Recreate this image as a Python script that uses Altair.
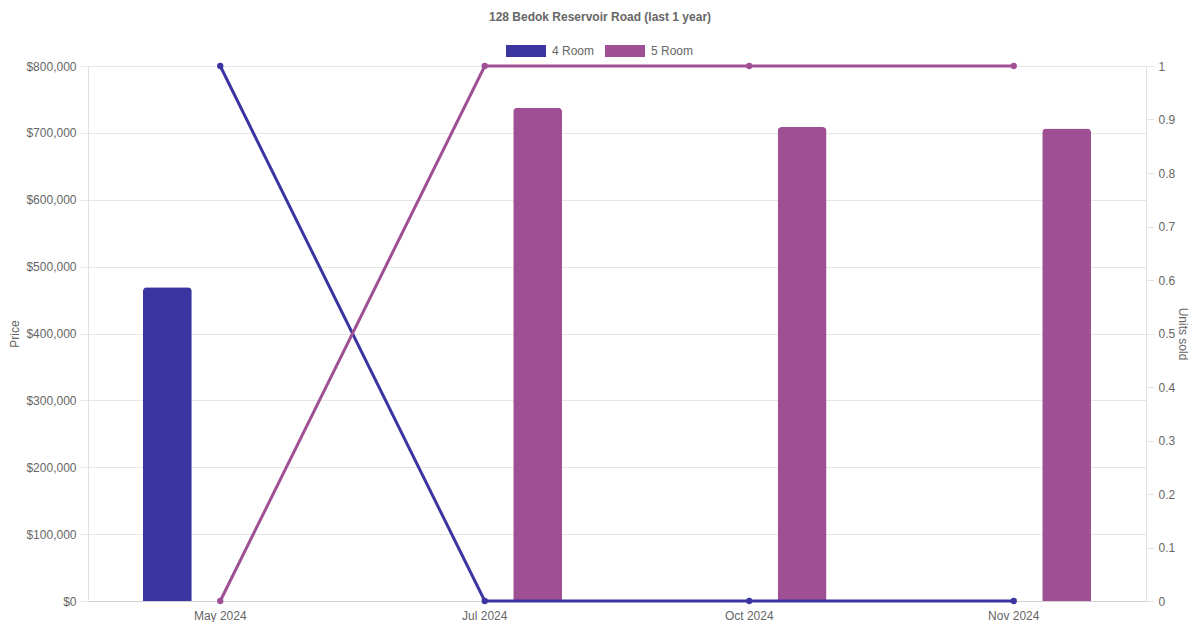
import altair as alt
import pandas as pd

months = ["May 2024", "Jul 2024", "Oct 2024", "Nov 2024"]
room_types = ["4 Room", "5 Room"]
price_4room = [469000, None, None, None]
price_5room = [None, 737700, 708800, 706500]
units_4room = [1, 0, 0, 0]
units_5room = [0, 1, 1, 1]
colors = ["#3a35a0", "#9f5094"]
price_ticks = [0, 100000, 200000, 300000, 400000, 500000, 600000, 700000, 800000]
unit_ticks = [0, 0.1, 0.2, 0.3, 0.4, 0.5, 0.6, 0.7, 0.8, 0.9, 1]

rows = []
for i, m in enumerate(months):
    rows.append({"month": m, "type": "4 Room", "price": price_4room[i], "units": units_4room[i]})
    rows.append({"month": m, "type": "5 Room", "price": price_5room[i], "units": units_5room[i]})
df = pd.DataFrame(rows)

FONT = "Liberation Sans"
GRAY = "#666666"

x_enc = alt.X("month:N", sort=months, scale=alt.Scale(paddingInner=0, paddingOuter=0),
              axis=alt.Axis(title=None, labelAngle=0, ticks=False, labelPadding=9, domainColor="#d0d0d0",
                            grid=False))
color_scale = alt.Scale(domain=room_types, range=colors)

bars = alt.Chart(df).transform_filter("isValid(datum.price)").mark_bar(
    cornerRadiusTopLeft=4, cornerRadiusTopRight=4
).encode(
    x=x_enc,
    xOffset=alt.XOffset("type:N", scale=alt.Scale(domain=room_types, paddingInner=0.538, paddingOuter=0.519)),
    y=alt.Y("price:Q", scale=alt.Scale(domain=[0, 800000], nice=False),
            axis=alt.Axis(title="Price", values=price_ticks, format="$,.0f", orient="left",
                          grid=True, gridColor="#e6e6e6", tickColor="#e6e6e6", tickSize=8,
                          domainColor="#e0e0e0", labelPadding=4, titlePadding=4)),
    color=alt.Color("type:N", scale=color_scale,
                    legend=alt.Legend(title=None, orient="none", legendX=418, legendY=-35, direction="horizontal",
                                      symbolType="M-1,-0.3H1V0.3H-1Z", symbolSize=1600, symbolStrokeWidth=0,
                                      labelOffset=6, columnPadding=10, labelFontSize=12, labelColor=GRAY,
                                      labelFont=FONT, symbolOpacity=1)),
)

lines = alt.Chart(df).mark_line(strokeWidth=3, point=alt.OverlayMarkDef(size=40, filled=True, opacity=1)).encode(
    x=x_enc,
    y=alt.Y("units:Q", scale=alt.Scale(domain=[0, 1], nice=False),
            axis=alt.Axis(title="Units sold", values=unit_ticks, format=".1~f", orient="right",
                          grid=False, tickColor="#e6e6e6", tickSize=8, domainColor="#e0e0e0",
                          labelPadding=4, titlePadding=1)),
    color=alt.Color("type:N", scale=color_scale, legend=None),
    detail="type:N",
)

chart = alt.layer(bars, lines).resolve_scale(y="independent").properties(
    width=1058, height=535,
    autosize=alt.AutoSizeParams(type="none"),
    padding={"left": 80, "top": 58, "right": 46, "bottom": 21},
    title=alt.TitleParams("128 Bedok Reservoir Road (last 1 year)", anchor="middle", fontSize=12,
                          fontWeight="bold", color=GRAY, font=FONT, dx=-17, offset=7),
).configure_view(stroke=None).configure_axis(
    labelFont=FONT, titleFont=FONT, labelFontSize=12, titleFontSize=12, labelColor=GRAY,
    titleColor=GRAY, titleFontWeight="normal"
)

chart.save("out.html", embed_options={"renderer": "svg", "actions": False})
